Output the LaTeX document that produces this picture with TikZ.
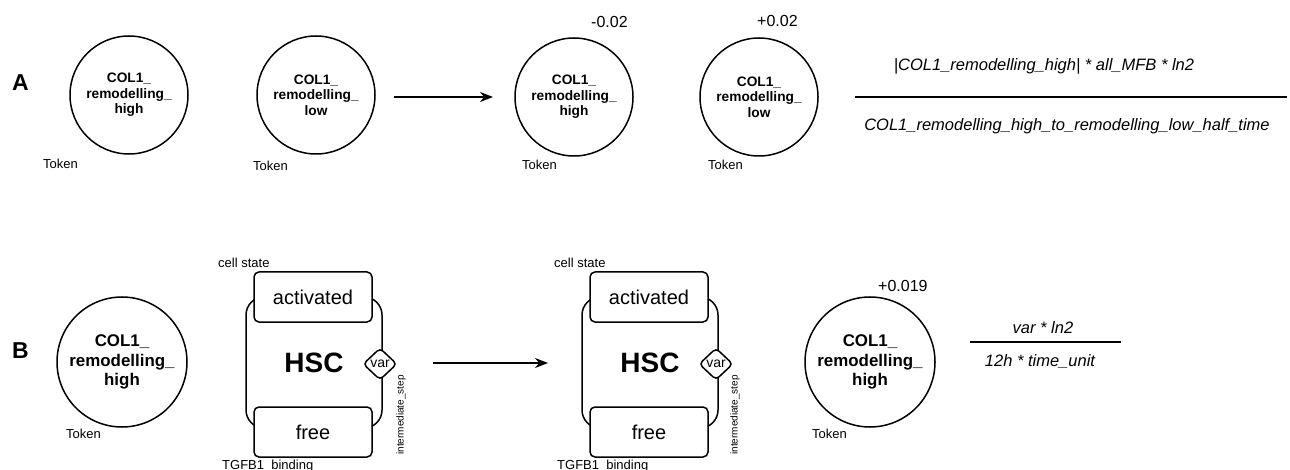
\documentclass[tikz,border=0pt]{standalone}
\usepackage{fontspec}
\setmainfont{Liberation Sans}
\usetikzlibrary{arrows.meta,shapes.geometric}
\tikzset{tok/.append style={draw,circle,line width=1.5pt,minimum size=118pt,inner sep=0pt,align=center,font=\bfseries\fontsize{13.7}{15.5}\selectfont}}
\tikzset{tokb/.append style={tok,minimum size=130pt,font=\bfseries\fontsize{16.9}{19.5}\selectfont}}
\tikzset{lbl/.append style={anchor=base west,inner sep=0pt,font=\fontsize{13}{15}\selectfont}}
\tikzset{dlt/.append style={lbl,font=\fontsize{16}{18}\selectfont}}
\tikzset{frm/.append style={anchor=base,inner sep=0pt,font=\itshape\fontsize{16.5}{19}\selectfont}}
\tikzset{panel/.append style={anchor=base west,inner sep=0pt,font=\bfseries\fontsize{23}{25}\selectfont}}
\tikzset{flow/.append style={line width=1.3pt,-{Stealth[length=13pt,width=10pt]}}}
\tikzset{hscbox/.append style={draw,rounded corners=18pt,line width=1.5pt,minimum width=136pt,minimum height=131pt,font=\bfseries\fontsize{28}{30}\selectfont}}
\tikzset{statebox/.append style={draw,fill=white,rounded corners=5pt,line width=1.5pt,minimum width=118pt,minimum height=50pt,font=\fontsize{20}{22}\selectfont}}
\tikzset{varbox/.append style={draw,fill=white,diamond,rounded corners=4pt,inner sep=0pt,minimum width=34pt,minimum height=32pt,line width=1.5pt,font=\fontsize{14}{16}\selectfont}}
\tikzset{stepl/.append style={rotate=90,inner sep=0pt,font=\fontsize{10}{12}\selectfont}}

\begin{document}
\begin{tikzpicture}[x=1pt,y=-1pt]
                \useasboundingbox (0,0) rectangle (1290,470);
                % A
                \node[panel] (pa) at (12,91) {A};
                \node[tok] (a1) at (129,95) {COL1\_\\remodelling\_\\high};
                \node[tok] (a2) at (316,95) {COL1\_\\remodelling\_\\low};
                \node[tok] (a3) at (574,97) {COL1\_\\remodelling\_\\high};
                \node[tok] (a4) at (759,97) {COL1\_\\remodelling\_\\low};
                \node[lbl] (ta1) at (43,169) {Token};
                \node[lbl] (ta2) at (253,171) {Token};
                \node[lbl] (ta3) at (522,170) {Token};
                \node[lbl] (ta4) at (708,170) {Token};
                \node[dlt] (da3) at (591,28) {-0.02};
                \node[dlt] (da4) at (757,27) {+0.02};
                \coordinate (sa) at (394,97);
                \coordinate (ea) at (493,97);
                \draw[flow] (sa) -- (ea);
                \node[frm] (numa) at (1044,71) {|COL1\_remodelling\_high| * all\_MFB * ln2};
                \node[frm] (dena) at (1067,131) {COL1\_remodelling\_high\_to\_remodelling\_low\_half\_time};
                \coordinate (la1) at (855,97);
                \coordinate (la2) at (1287,97);
                \draw[line width=2pt] (la1) -- (la2);
                % B
                \node[panel] (pb) at (12,358) {B};
                \node[tokb] (b1) at (122,362) {COL1\_\\remodelling\_\\high};
                \node[lbl] (tb1) at (66,438) {Token};
                \node[hscbox] (h1) at (314,362.5) {HSC};
                \node[statebox] (s1) at (313,297) {activated};
                \node[statebox] (f1) at (313,432) {free};
                \node[varbox] (v1) at (380,364) {var};
                \node[lbl] (cs1) at (218,268) {cell state};
                \node[lbl] (tg1) at (222,469.5) {TGFB1\_binding};
                \node[stepl] (is1) at (401,415) {intermediate\_step};
                \coordinate (sb) at (433,363);
                \coordinate (eb) at (548,363);
                \draw[flow] (sb) -- (eb);
                \node[hscbox] (h2) at (650,362.5) {HSC};
                \node[statebox] (s2) at (649,297) {activated};
                \node[statebox] (f2) at (649,432) {free};
                \node[varbox] (v2) at (716,364) {var};
                \node[lbl] (cs2) at (554,268) {cell state};
                \node[lbl] (tg2) at (557,469.5) {TGFB1\_binding};
                \node[stepl] (is2) at (735,415) {intermediate\_step};
                \node[tokb] (b2) at (870,362) {COL1\_\\remodelling\_\\high};
                \node[lbl] (tb2) at (812,438) {Token};
                \node[dlt] (db2) at (878,291) {+0.019};
                \node[frm] (numb) at (1043,333) {var * ln2};
                \node[frm] (denb) at (1040,366) {12h * time\_unit};
                \coordinate (lb1) at (970,342);
                \coordinate (lb2) at (1121,342);
                \draw[line width=2pt] (lb1) -- (lb2);
            \end{tikzpicture}
\end{document}
